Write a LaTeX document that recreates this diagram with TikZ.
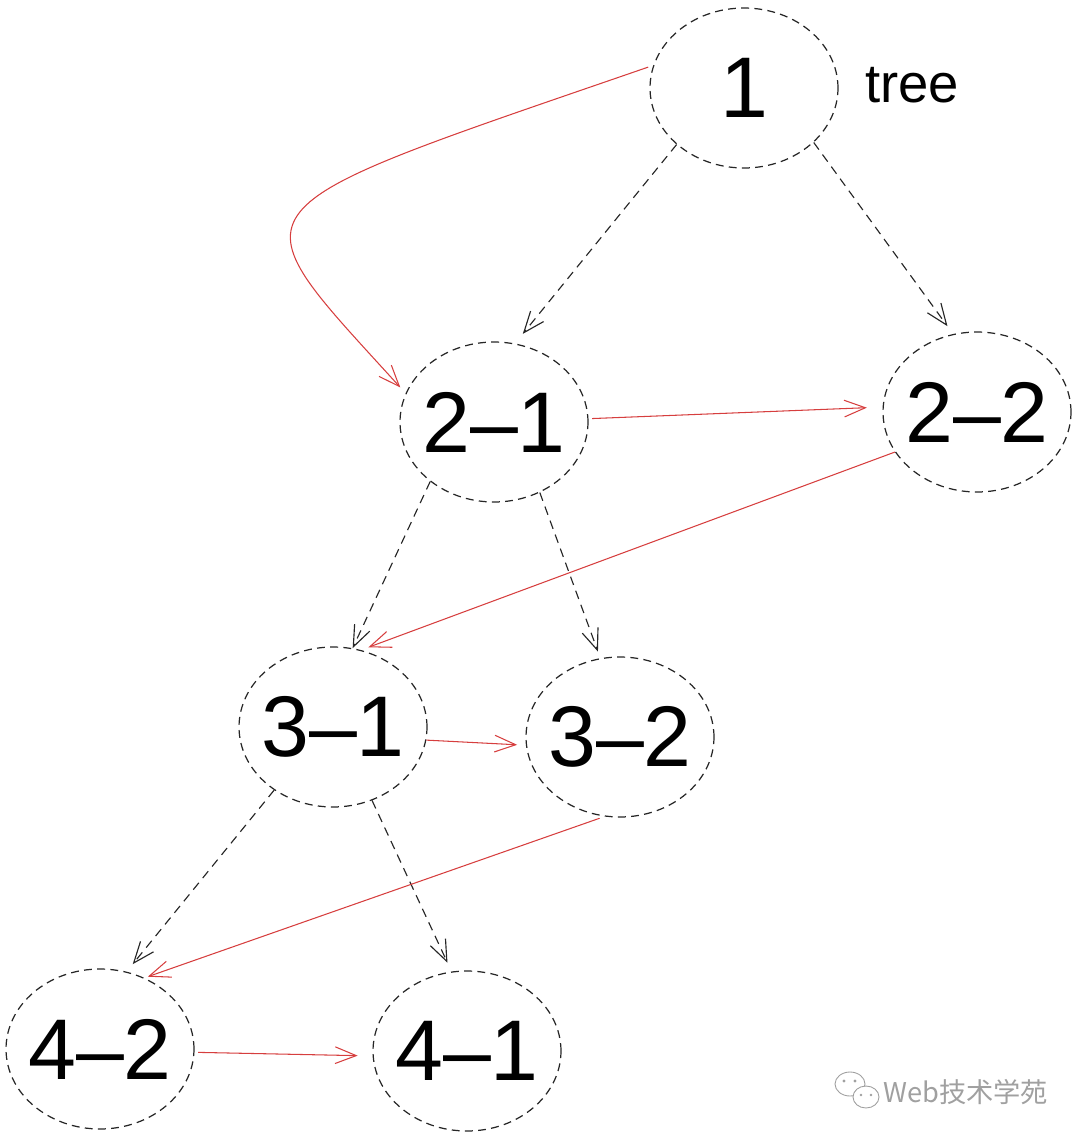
\documentclass[tikz,border=0pt]{standalone}
\usepackage{fontspec}
\setmainfont{Liberation Sans}
\newfontfamily\cjk{Noto Sans CJK SC}
\usetikzlibrary{shapes.geometric,arrows.meta}

\definecolor{linkred}{RGB}{214,62,62}
\definecolor{wmgray}{RGB}{160,160,160}

\newcommand{\nodetext}[1]{\makebox[0pt]{#1}}

\tikzset{
  treenode/.style={ellipse, draw=black!85, dash pattern=on 4.5pt off 3pt, line width=0.7pt,
    minimum width=3.76cm, minimum height=3.2cm, inner sep=0pt, font=\fontsize{49}{52}\selectfont},
  childarrow/.style={draw=black!85, line width=0.65pt, dash pattern=on 5pt off 3.5pt,
    -{Straight Barb[length=12pt,width=9.5pt]}},
  levelarrow/.style={draw=linkred, line width=0.6pt,
    -{Straight Barb[length=12pt,width=9.5pt]}}
}

\begin{document}
\begin{tikzpicture}[x=0.02cm,y=-0.02cm]
\useasboundingbox (0,0) rectangle (1080,1140);
% nodes
\node[treenode] (n1)  at (744,88)   {\nodetext{1}};
\node[treenode] (n21) at (494,422)  {\nodetext{2\textendash1}};
\node[treenode] (n22) at (977,412)  {\nodetext{2\textendash2}};
\node[treenode] (n31) at (333,727)  {\nodetext{3\textendash1}};
\node[treenode] (n32) at (620,737)  {\nodetext{3\textendash2}};
\node[treenode] (n42) at (100,1049) {\nodetext{4\textendash2}};
\node[treenode] (n41) at (467,1051) {\nodetext{4\textendash1}};
\node[font=\fontsize{31}{34}\selectfont] (title) at (912,85) {tree};

% parent -> child
\draw[childarrow, shorten >=7pt] (n1.220) -- (n21.75);
\draw[childarrow, shorten >=5.5pt] (n1.-38) -- (n22.107);
\draw[childarrow] (n21.223) -- (n31.76);
\draw[childarrow, shorten >=4pt] (n21.-57) -- (n32.104);
\draw[childarrow, shorten >=5.5pt] (n31.227) -- (n42.71);
\draw[childarrow, shorten >=5.5pt] (n31.-62) -- (n41.101);

% level order
\draw[levelarrow, shorten <=3pt, shorten >=4.5pt] (n1.166) .. controls (220,215) and (230,200) .. (n21.162);
\draw[levelarrow, shorten <=2pt, shorten >=9pt] (n21.2) -- (n22.177);
\draw[levelarrow, shorten >=4.5pt] (n22.206) -- (n31.70);
\draw[levelarrow, shorten >=5pt] (n31.-8) -- (n32.185);
\draw[levelarrow, shorten <=3pt, shorten >=2pt] (n32.259) -- (n42.58);
\draw[levelarrow, shorten <=2pt, shorten >=8.5pt] (n42.-2) -- (n41.183);

% watermark
\draw[wmgray, fill=white, line width=0.5pt] (850,1084) ellipse (15 and 12);
\draw[wmgray, fill=white, line width=0.5pt] (866,1097) ellipse (13 and 11);
\fill[wmgray] (844,1081) circle (1.6) (855,1081) circle (1.6)
  (861,1095) circle (1.4) (871,1095) circle (1.4);
\node[text=wmgray, font=\cjk\fontsize{15.5}{18}\selectfont, anchor=west, inner sep=0pt] (mark) at (883,1092) {Web技术学苑};
\end{tikzpicture}
\end{document}
